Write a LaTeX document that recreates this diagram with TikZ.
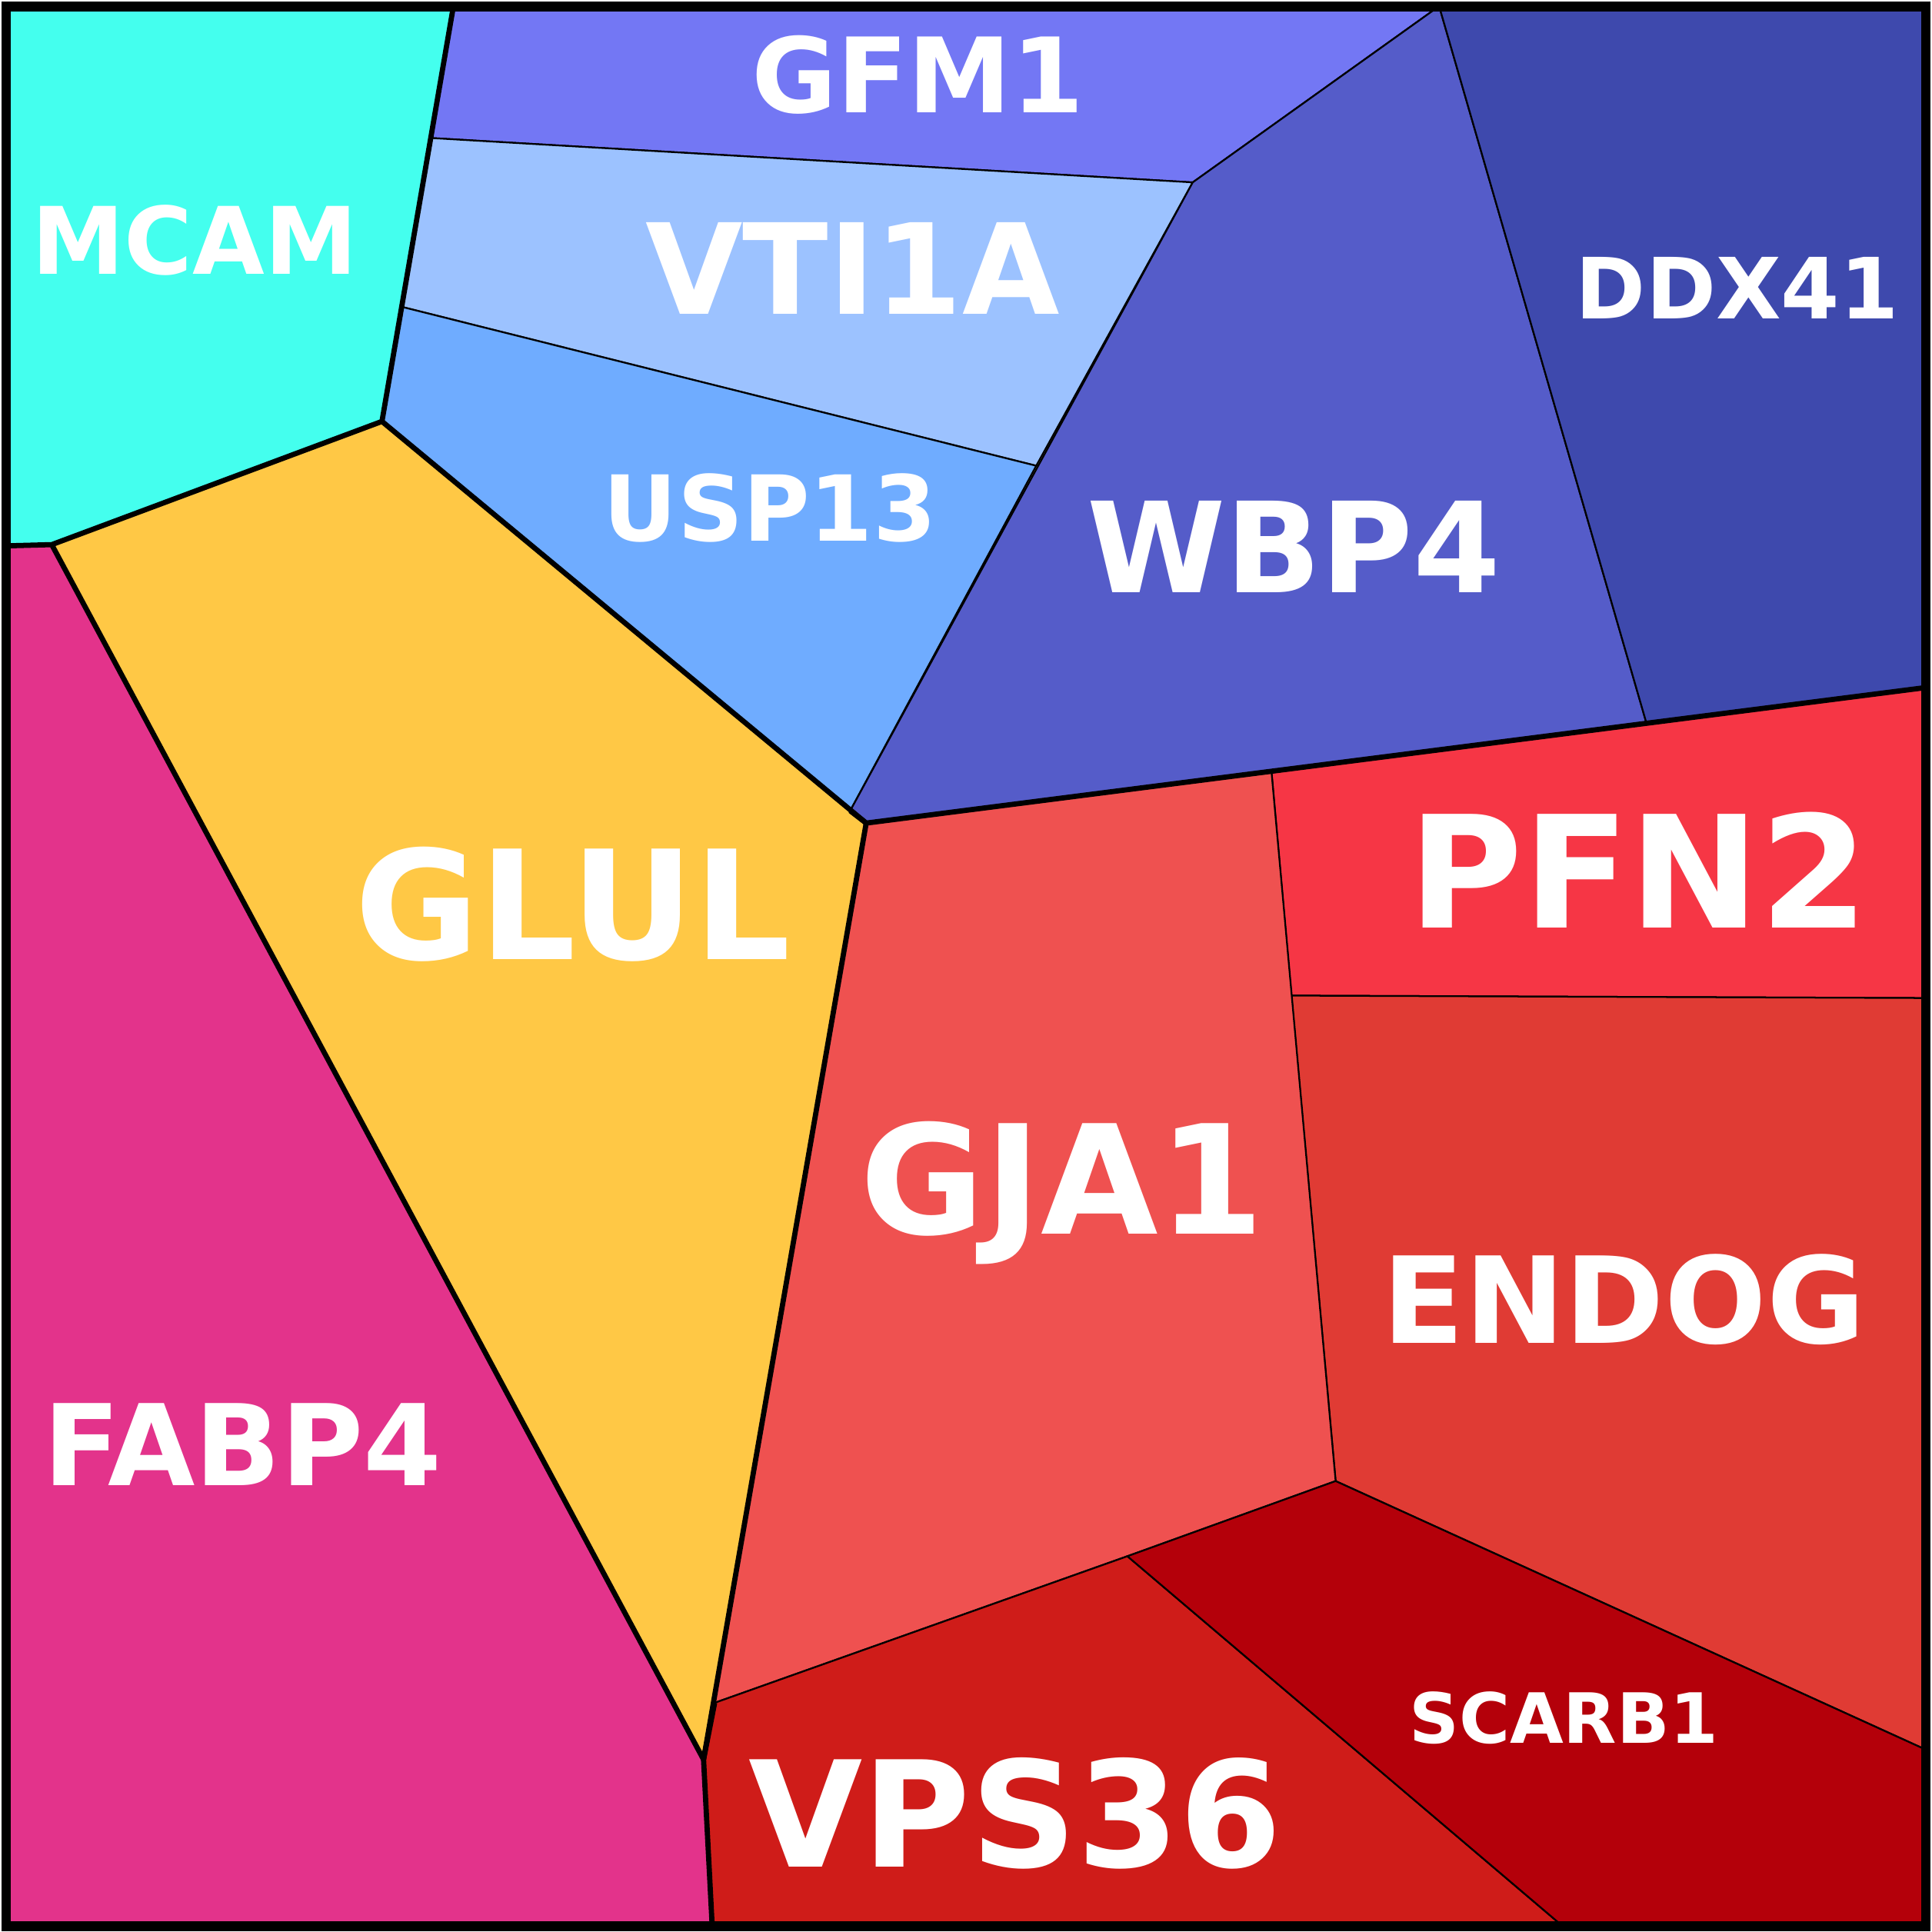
\documentclass[tikz,border=0pt]{standalone}
\usepackage{fontspec}
\setmainfont{DejaVu Sans}
\begin{document}
\begin{tikzpicture}[x=0.01cm,y=-0.01cm,
  cell/.style={draw=black,line width=0.4pt},
  thick border/.style={draw=black,line width=1.2pt,line join=round},
  lbl/.style={text=white,font=\bfseries,inner sep=0pt,anchor=center}]
\useasboundingbox (0,0) rectangle (1568,1568);
\definecolor{cMCAM}{HTML}{44FFEE}
\definecolor{cGFM}{HTML}{7377F4}
\definecolor{cVTI}{HTML}{9CC2FF}
\definecolor{cUSP}{HTML}{6FACFF}
\definecolor{cWBP}{HTML}{555CC9}
\definecolor{cDDX}{HTML}{3E49AD}
\definecolor{cGLUL}{HTML}{FFC845}
\definecolor{cFABP}{HTML}{E3338B}
\definecolor{cPFN}{HTML}{F63645}
\definecolor{cENDOG}{HTML}{E03B34}
\definecolor{cGJA}{HTML}{EF5150}
\definecolor{cVPS}{HTML}{CF1C19}
\definecolor{cSCARB}{HTML}{B4000A}
\fill[cell,fill=cMCAM] (5,5)--(368,5)--(310,342)--(42,442)--(5,443)--cycle;
\fill[cell,fill=cGFM] (368,5)--(1168,5)--(968,148)--(350,112)--cycle;
\fill[cell,fill=cVTI] (350,112)--(968,148)--(841,378)--(326,249)--cycle;
\fill[cell,fill=cUSP] (326,249)--(841,378)--(690,658)--(310,342)--cycle;
\fill[cell,fill=cWBP] (1168,5)--(1336,586)--(703,668)--(690,658)--(968,148)--cycle;
\fill[cell,fill=cDDX] (1168,5)--(1563,5)--(1563,558)--(1336,586)--cycle;
\fill[cell,fill=cGLUL] (310,342)--(690,658)--(703,668)--(571,1428)--(42,442)--cycle;
\fill[cell,fill=cFABP] (5,443)--(42,442)--(571,1428)--(578,1563)--(5,1563)--cycle;
\fill[cell,fill=cPFN] (1032,627)--(1563,558)--(1563,810)--(1048,808)--cycle;
\fill[cell,fill=cENDOG] (1048,808)--(1563,810)--(1563,1420)--(1084,1202)--cycle;
\fill[cell,fill=cGJA] (703,668)--(1032,627)--(1084,1202)--(915,1263)--(580,1382)--cycle;
\fill[cell,fill=cVPS] (580,1382)--(915,1263)--(1268,1563)--(578,1563)--(571,1428)--cycle;
\fill[cell,fill=cSCARB] (915,1263)--(1084,1202)--(1563,1420)--(1563,1563)--(1268,1563)--cycle;
\draw[thick border] (5,443)--(42,442)--(310,342)--(368,5);
\draw[thick border] (42,442)--(571,1428)--(578,1563);
\draw[thick border] (310,342)--(703,668)--(571,1428);
\draw[thick border] (690,658)--(703,668)--(1563,558);
\draw[thick border] (571,1428)--(580,1382);
\draw[black,line width=2.3pt] (5,5) rectangle (1563,1563);
\node[lbl,font=\bfseries\fontsize{24}{24}\selectfont] (gfm) at (745,61) {GFM1};
\node[lbl,font=\bfseries\fontsize{21.5}{21.5}\selectfont] (mcam) at (158,195) {MCAM};
\node[lbl,font=\bfseries\fontsize{29}{29}\selectfont] (vti) at (692,218) {VTI1A};
\node[lbl,font=\bfseries\fontsize{21}{21}\selectfont] (usp) at (625,412) {USP13};
\node[lbl,font=\bfseries\fontsize{29}{29}\selectfont] (wbp) at (1050,444) {WBP4};
\node[lbl,font=\bfseries\fontsize{19.5}{19.5}\selectfont] (ddx) at (1410,234) {DDX41};
\node[lbl,font=\bfseries\fontsize{35}{35}\selectfont] (glul) at (465,734) {GLUL};
\node[lbl,font=\bfseries\fontsize{36}{36}\selectfont] (pfn) at (1330,706) {PFN2};
\node[lbl,font=\bfseries\fontsize{35}{35}\selectfont] (gja) at (862,968) {GJA1};
\node[lbl,font=\bfseries\fontsize{27.7}{27.7}\selectfont] (endog) at (1318,1055) {ENDOG};
\node[lbl,font=\bfseries\fontsize{26}{26}\selectfont] (fabp) at (197,1172) {FABP4};
\node[lbl,font=\bfseries\fontsize{16}{16}\selectfont] (scarb) at (1269,1394) {SCARB1};
\node[lbl,font=\bfseries\fontsize{34}{34}\selectfont] (vps) at (824,1472) {VPS36};
\end{tikzpicture}
\end{document}
